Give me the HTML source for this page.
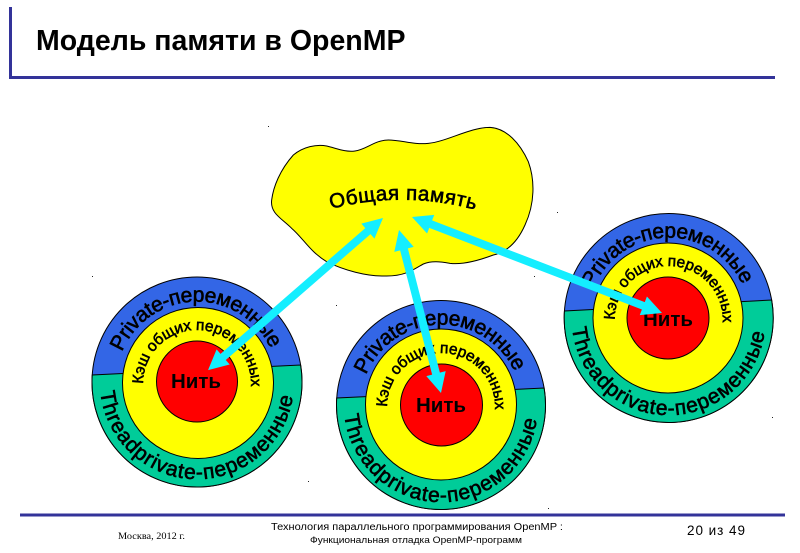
<!DOCTYPE html>
<html lang="ru"><head><meta charset="utf-8"><title>Модель памяти в OpenMP</title>
<style>
html,body{margin:0;padding:0;background:#fff}
svg{display:block}
text{font-family:"Liberation Sans","DejaVu Sans",sans-serif;fill:#000}
.r{font-size:21px;stroke:#000;stroke-width:.6}
.c{font-size:15.5px;stroke:#000;stroke-width:.55}
.m{font-size:20.5px;stroke:#000;stroke-width:.6}
.n{font-size:20.5px;font-weight:bold;text-anchor:middle}
</style></head><body>
<svg width="800" height="553" viewBox="0 0 800 553" xmlns="http://www.w3.org/2000/svg">
<defs>
<path id="po" d="M-75 -30 A81 81 0 0 1 75 -30"/>
<path id="pt" d="M-96.5 10 A97 97 0 0 0 96.5 10"/>
<path id="pc" d="M-54 2 A54 54 0 1 1 54 2"/>
<path id="pm" d="M331 209 Q403 190 476 210"/>
</defs>
<rect width="800" height="553" fill="#fff"/>
<rect x="9" y="7" width="3" height="72" fill="#333399"/>
<rect x="9" y="76" width="766" height="3" fill="#333399"/>
<text x="36" y="50" font-size="28.5" font-weight="bold">Модель памяти в OpenMP</text>

<g transform="translate(260 120) scale(.33333)">
<path d="M35 240 C40 200 60 150 100 105 C130 80 170 72 200 78 C230 85 255 97 285 93 C320 88 345 60 385 60 C425 60 460 75 505 70 C560 65 630 22 690 22 C740 25 780 70 805 125 C825 180 825 250 795 315 C775 360 745 395 700 405 C660 420 610 435 570 430 C540 425 515 422 490 432 C465 445 440 468 380 468 C320 470 250 450 200 425 C150 395 130 355 95 325 C65 295 30 280 35 240 Z" fill="#ffff00" stroke="#000" stroke-width="3"/>
</g>
<text class="m"><textPath href="#pm" textLength="146" lengthAdjust="spacing">Общая память</textPath></text>

<!-- circle 1 -->
<circle cx="197" cy="382" r="105" fill="#3366e6" stroke="#000"/>
<path d="M92.23 375 A105 105 0 1 0 300.6 365 Z" fill="#00cc99" stroke="#000"/>
<circle cx="198" cy="383" r="75.5" fill="#ffff00" stroke="#000"/>
<circle cx="197" cy="381.5" r="40.5" fill="#ff0000" stroke="#000"/>
<g transform="translate(197 382)">
<text class="r"><textPath href="#po" textLength="188" lengthAdjust="spacing">Private-переменные</textPath></text>
<text class="r"><textPath href="#pt" textLength="280" lengthAdjust="spacing">Threadprivate-переменные</textPath></text>
<text class="c"><textPath href="#pc" textLength="172" lengthAdjust="spacing">Кэш общих переменных</textPath></text>
</g>
<text class="n" x="196" y="388">Нить</text>

<!-- circle 2 -->
<circle cx="441" cy="405" r="104.5" fill="#3366e6" stroke="#000"/>
<path d="M336.73 398 A104.5 104.5 0 1 0 544.1 388 Z" fill="#00cc99" stroke="#000"/>
<circle cx="441" cy="404.5" r="75.5" fill="#ffff00" stroke="#000"/>
<circle cx="441.5" cy="405" r="41" fill="#ff0000" stroke="#000"/>
<g transform="translate(441 405)">
<text class="r"><textPath href="#po" textLength="188" lengthAdjust="spacing">Private-переменные</textPath></text>
<text class="r"><textPath href="#pt" textLength="280" lengthAdjust="spacing">Threadprivate-переменные</textPath></text>
<text class="c"><textPath href="#pc" textLength="172" lengthAdjust="spacing">Кэш общих переменных</textPath></text>
</g>
<text class="n" x="441" y="412">Нить</text>

<!-- circle 3 -->
<circle cx="668.7" cy="318" r="104.5" fill="#3366e6" stroke="#000"/>
<path d="M564.43 311 A104.5 104.5 0 1 0 771.64 300 Z" fill="#00cc99" stroke="#000"/>
<circle cx="668" cy="318" r="75" fill="#ffff00" stroke="#000"/>
<circle cx="668" cy="318" r="41" fill="#ff0000" stroke="#000"/>
<g transform="translate(668.7 318)">
<text class="r"><textPath href="#po" textLength="188" lengthAdjust="spacing">Private-переменные</textPath></text>
<text class="r"><textPath href="#pt" textLength="280" lengthAdjust="spacing">Threadprivate-переменные</textPath></text>
<text class="c"><textPath href="#pc" textLength="172" lengthAdjust="spacing">Кэш общих переменных</textPath></text>
</g>
<text class="n" x="668" y="326">Нить</text>

<!-- arrows -->
<g fill="#14eeff">
<polygon transform="translate(383 218) rotate(139)" points="0,0 20,-10 20,-4 211.8,-4 211.8,-10 231.8,0 211.8,10 211.8,4 20,4 20,10"/>
<polygon transform="translate(399 230) rotate(75.55)" points="0,0 20,-10 20,-4 148.3,-4 148.3,-10 168.3,0 148.3,10 148.3,4 20,4 20,10"/>
<polygon transform="translate(412 217) rotate(21)" points="0,0 20,-10 20,-4 247.8,-4 247.8,-10 267.8,0 247.8,10 247.8,4 20,4 20,10"/>
</g>

<!-- specks -->
<g fill="#222">
<rect x="92" y="276" width="1" height="1"/><rect x="268" y="126" width="1" height="1"/>
<rect x="534" y="276" width="1" height="1"/><rect x="557" y="212" width="1" height="1"/>
<rect x="308" y="481" width="1" height="1"/><rect x="772" y="417" width="1" height="1"/>
<rect x="548" y="508" width="1" height="1"/><rect x="336" y="305" width="1" height="1"/>
</g>

<!-- footer -->
<rect x="20" y="513.5" width="765" height="3" fill="#333399"/>
<text x="118" y="539" font-size="9.5" textLength="67" lengthAdjust="spacingAndGlyphs" style="font-family:'Liberation Serif',serif">Москва, 2012 г.</text>
<text x="417" y="530" font-size="10" text-anchor="middle" textLength="292" lengthAdjust="spacingAndGlyphs">Технология параллельного программирования OpenMP :</text>
<text x="416" y="543" font-size="9.5" text-anchor="middle" textLength="212" lengthAdjust="spacingAndGlyphs">Функциональная отладка OpenMP-программ</text>
<text x="687" y="535" font-size="13.5" textLength="58" lengthAdjust="spacing">20 из 49</text>
</svg>
</body></html>
